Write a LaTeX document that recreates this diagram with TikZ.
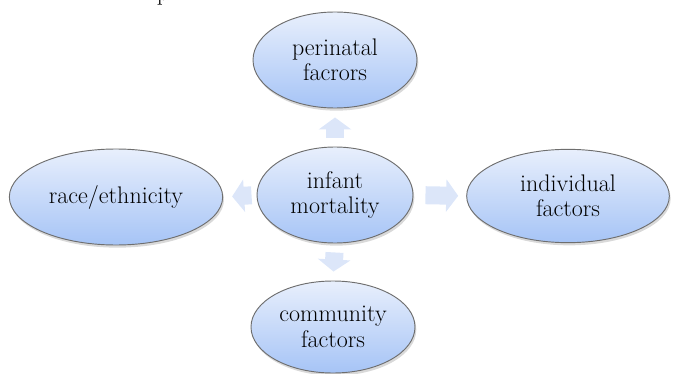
\documentclass[tikz,border=0pt]{standalone}
\usetikzlibrary{arrows.meta,shadows,shapes.geometric}
\definecolor{cimaazul}{HTML}{E8EFFC}
\definecolor{fondoazul}{HTML}{A6C4F6}
\definecolor{borde}{HTML}{6E6E6E}
\definecolor{flechaazul}{HTML}{DCE6F9}

\begin{document}
\begin{tikzpicture}[
  x=0.75pt, y=-0.75pt,
  burbuja/.style={ellipse, draw=borde, line width=0.7pt, top color=cimaazul, bottom color=fondoazul,
    align=center, inner sep=0pt, font=\fontsize{18}{19}\selectfont,
    drop shadow={shadow xshift=1pt, shadow yshift=-2pt, opacity=0.3}},
  bloque/.style={-{Triangle[length=9pt, width=24pt]}, line width=13.5pt, draw=flechaazul}
]
\useasboundingbox (0,0) rectangle (674,374);
% fragmento de texto cortado arriba
\node[font=\fontsize{18}{19}\selectfont, anchor=base, inner sep=0pt] (frag) at (163,0.5) {p};
\node[burbuja, minimum width=123pt, minimum height=72pt] (peri) at (335,60) {perinatal\\facrors};
\node[burbuja, minimum width=117pt, minimum height=72pt] (mort) at (335,195) {infant\\mortality};
\node[burbuja, minimum width=160pt, minimum height=72pt] (raza) at (116,197) {race/ethnicity};
\node[burbuja, minimum width=152pt, minimum height=70pt] (indiv) at (568,196) {individual\\factors};
\node[burbuja, minimum width=123pt, minimum height=69pt] (comun) at (333,327) {community\\factors};
% flechas de bloque
\draw[bloque, shorten <=6.75pt, shorten >=6.75pt] (mort.north) -- (peri.south);
\draw[bloque, shorten <=3.75pt, shorten >=6.75pt] (mort.west) -- (raza.east);
\draw[bloque, shorten <=9pt, shorten >=6pt] (mort.east) -- (indiv.west);
\draw[bloque, shorten <=6.75pt, shorten >=6.75pt] (mort.south) -- (comun.north);
\end{tikzpicture}
\end{document}
